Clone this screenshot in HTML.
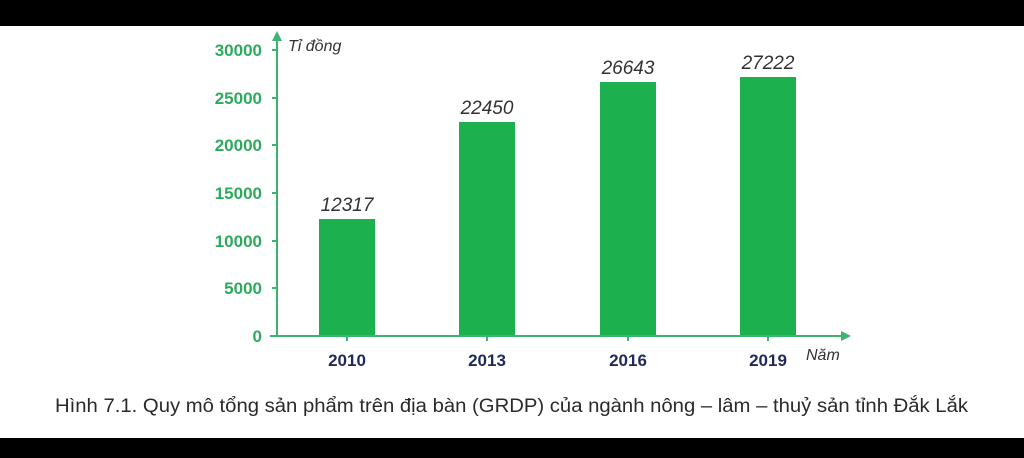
<!DOCTYPE html>
<html><head><meta charset="utf-8"><style>
body{margin:0;width:1024px;height:458px;background:#fff;overflow:hidden;position:relative;font-family:"Liberation Sans",sans-serif}
.blk{position:absolute;left:0;width:1024px;background:#000}
</style></head><body>
<div class="blk" style="top:0;height:26px"></div>
<div class="blk" style="top:438px;height:20px"></div>
<svg width="1024" height="458" style="position:absolute;left:0;top:0" font-family="Liberation Sans, sans-serif">
<g fill="#1db04e">
<rect x="319" y="219" width="56" height="117"/>
<rect x="459" y="122" width="56" height="214"/>
<rect x="600" y="82" width="56" height="254"/>
<rect x="740" y="77" width="56" height="259"/>
</g>
<g stroke="#3cb371" stroke-width="2" fill="none">
<line x1="277" y1="336" x2="277" y2="38"/>
<line x1="270" y1="336" x2="842" y2="336"/>
<line x1="272" y1="50" x2="277" y2="50"/><line x1="272" y1="98" x2="277" y2="98"/>
<line x1="272" y1="145" x2="277" y2="145"/><line x1="272" y1="193" x2="277" y2="193"/>
<line x1="272" y1="241" x2="277" y2="241"/><line x1="272" y1="288" x2="277" y2="288"/>
<line x1="347" y1="336" x2="347" y2="341"/><line x1="487" y1="336" x2="487" y2="341"/>
<line x1="628" y1="336" x2="628" y2="341"/><line x1="768" y1="336" x2="768" y2="341"/>
</g>
<polygon points="277,31 272,41 282,41" fill="#3cb371"/>
<polygon points="851,336 841,331 841,341" fill="#3cb371"/>
<g fill="#2eaa5e" font-weight="bold" font-size="17" text-anchor="end">
<text x="262" y="56">30000</text><text x="262" y="104">25000</text>
<text x="262" y="151">20000</text><text x="262" y="199">15000</text>
<text x="262" y="247">10000</text><text x="262" y="294">5000</text>
<text x="262" y="342">0</text>
</g>
<g fill="#333" font-style="italic" font-size="16">
<text x="288" y="51">Tỉ đồng</text>
<text x="806" y="360">Năm</text>
</g>
<g fill="#333" font-style="italic" font-size="19" text-anchor="middle">
<text x="347" y="211">12317</text><text x="487" y="114">22450</text>
<text x="628" y="74">26643</text><text x="768" y="69">27222</text>
</g>
<g fill="#1f2a5a" font-weight="bold" font-size="17" text-anchor="middle">
<text x="347" y="366">2010</text><text x="487" y="366">2013</text>
<text x="628" y="366">2016</text><text x="768" y="366">2019</text>
</g>
<text x="55" y="412" font-size="19" fill="#2a2a2a" textLength="913" lengthAdjust="spacingAndGlyphs">Hình 7.1.  Quy mô tổng sản phẩm trên địa bàn (GRDP) của ngành nông – lâm – thuỷ sản tỉnh Đắk Lắk</text>
</svg>
</body></html>
